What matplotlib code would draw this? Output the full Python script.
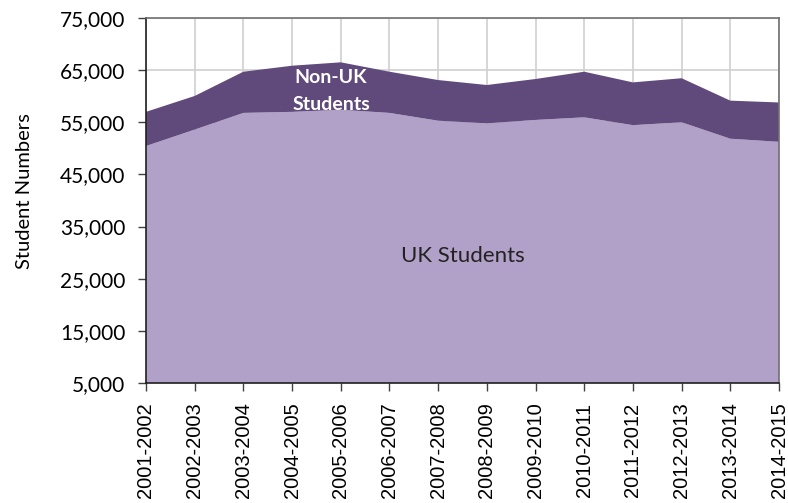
import matplotlib
matplotlib.use("Agg")
from matplotlib import pyplot as plt
from matplotlib.ticker import FuncFormatter
import numpy as np

years = ["2001-2002", "2002-2003", "2003-2004", "2004-2005", "2005-2006",
         "2006-2007", "2007-2008", "2008-2009", "2009-2010", "2010-2011",
         "2011-2012", "2012-2013", "2013-2014", "2014-2015"]
uk_students = [50450, 53600, 56800, 57000, 57400, 56800, 55300,
               54800, 55450, 55950, 54450, 55000, 51850, 51250]
total_students = [57000, 60050, 64700, 65850, 66500, 64700, 63100,
                  62150, 63300, 64700, 62650, 63450, 59150, 58800]
non_uk_students = [t - u for t, u in zip(total_students, uk_students)]

light = "#B1A0C7"
dark = "#604A7B"

fig = plt.figure(figsize=(7.88, 5.03), dpi=100)
ax = fig.add_axes([146 / 788, 120 / 503, 633 / 788, 365 / 503])

x = np.arange(len(years))
ax.stackplot(x, uk_students, non_uk_students, colors=[light, dark],
             linewidth=0, zorder=2)

ax.set_xlim(0, len(years) - 1)
ax.set_ylim(5000, 75000)
ax.set_yticks(np.arange(5000, 75001, 10000))
ax.yaxis.set_major_formatter(FuncFormatter(lambda v, p: f"{int(v):,}"))
ax.set_xticks(x)
ax.set_xticklabels(years, rotation=90, fontsize=14.5, family="Liberation Sans")
for lbl in ax.get_yticklabels():
    lbl.set_fontfamily("Lato")
    lbl.set_fontsize(15)

ax.grid(True, color="#D0D0D0", linewidth=1.2, zorder=1)
ax.set_axisbelow(True)
ax.tick_params(axis="both", direction="out", length=6, width=1, color="#404040")
ax.tick_params(axis="y", pad=9)
ax.tick_params(axis="x", pad=8)

for side in ["left", "bottom"]:
    ax.spines[side].set_color("#202020")
    ax.spines[side].set_linewidth(1.2)
for side in ["top", "right"]:
    ax.spines[side].set_color("#707070")
    ax.spines[side].set_linewidth(1.2)

ax.set_ylabel("Student Numbers", family="Lato", fontsize=14.5)
ax.yaxis.set_label_coords(-0.178, 0.525)

ax.text(3.8, 61000, "Non-UK\nStudents", color="white", fontsize=14,
        fontweight="bold", family="Lato", ha="center", va="center",
        linespacing=1.65, zorder=3)
ax.text(6.5, 29300, "UK Students", color="#222222", fontsize=16,
        family="Lato", ha="center", va="center", zorder=3)

fig.savefig("out.png", dpi=100)
